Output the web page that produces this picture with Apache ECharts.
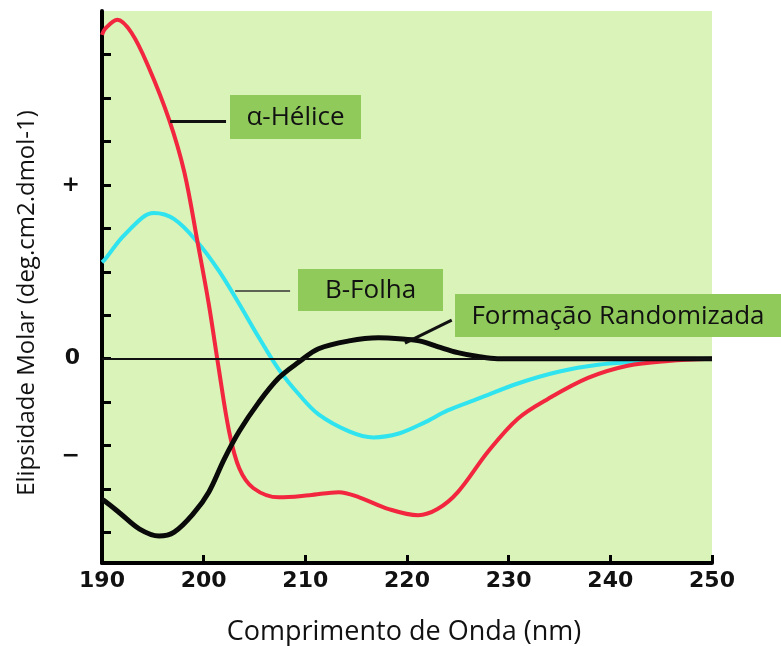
<!DOCTYPE html>
<html>
<head>
<meta charset="utf-8">
<title>Dicroísmo circular</title>
<script src="https://cdn.jsdelivr.net/npm/echarts/dist/echarts.min.js"></script>
<style>
  html, body { margin: 0; padding: 0; background: #ffffff; }
  #chart { width: 781px; height: 646px; }
</style>
</head>
<body>
<div id="chart"></div>
<script>
// Wavelength axis (nm)
const xTicks = [190, 200, 210, 220, 230, 240, 250];

// Molar ellipticity in tick units: [wavelength nm, value]
const helix = [
  [190.0, 7.45], [190.3, 7.59], [191.5, 7.80], [192.9, 7.50], [194.6, 6.70],
  [196.6, 5.50], [198.1, 4.29], [199.4, 2.68], [200.5, 1.26], [201.5, -0.25],
  [202.5, -1.67], [203.5, -2.52], [204.9, -2.98], [207.4, -3.19], [210.4, -3.14],
  [213.3, -3.07], [215.3, -3.19], [218.2, -3.46], [221.1, -3.60], [223.0, -3.46],
  [225.0, -3.07], [228.0, -2.13], [230.9, -1.38], [233.9, -0.92], [237.8, -0.44],
  [241.7, -0.16], [245.7, -0.05], [250.0, 0.00]
];

const sheet = [
  [190.0, 2.22], [190.3, 2.29], [192.3, 2.87], [195.1, 3.35], [197.1, 3.21],
  [199.4, 2.68], [201.5, 2.02], [203.5, 1.26], [205.4, 0.50], [207.4, -0.25],
  [209.4, -0.83], [211.3, -1.28], [214.3, -1.67], [216.7, -1.81], [219.2, -1.72],
  [221.7, -1.47], [224.0, -1.19], [227.0, -0.92], [230.9, -0.57], [234.9, -0.30],
  [238.8, -0.14], [242.7, -0.07], [245.7, -0.02], [250.0, 0.00]
];

const randomCoil = [
  [190.0, -3.24], [190.3, -3.28], [191.8, -3.56], [193.7, -3.92], [195.6, -4.08],
  [197.1, -3.99], [199.0, -3.56], [200.5, -3.07], [202.0, -2.32], [203.5, -1.67],
  [205.4, -1.01], [207.4, -0.44], [209.4, -0.07], [211.3, 0.23], [214.3, 0.41],
  [217.2, 0.48], [219.2, 0.46], [221.2, 0.41], [223.0, 0.28], [225.0, 0.14],
  [227.0, 0.05], [228.9, 0.00], [231.4, 0.00], [240.0, 0.00], [250.0, 0.00]
];

// Sign labels on the ellipticity axis
const yLabelValues = [4, 0, -2.25];
const yLabelText = { '4': '+', '0': '0', '-2.25': '\u2212' };
const yTickValues = [-4, -3, -2, -1, 0, 1, 2, 3, 4, 5, 6, 7];

// Callout texts and the points their leader lines start from / end at
const helixName = '\u03b1-H\u00e9lice';
const sheetName = 'B-Folha';
const coilName = 'Forma\u00e7\u00e3o Randomizada';
const helixLeader = [[196.7, 5.47], [202.2, 5.47]];
const sheetLeader = [[203.1, 1.56], [208.5, 1.56]];
const coilLeader = [[219.8, 0.36], [224.4, 0.89]];

const chart = echarts.init(document.getElementById('chart'), null, { renderer: 'canvas' });

const tickFont = {
  color: '#111',
  fontFamily: 'DejaVu Sans',
  fontWeight: 'bold',
  fontSize: 22
};

function leaderLine(points, width, color) {
  return [
    { coord: points[0], lineStyle: { width: width, color: color, type: 'solid' } },
    { coord: points[1] }
  ];
}

function markLines(lines) {
  return {
    silent: true,
    symbol: ['none', 'none'],
    label: { show: false },
    lineStyle: { type: 'solid' },
    emphasis: { disabled: true },
    data: lines
  };
}

function calloutBox(left, top, w, h, text) {
  return {
    type: 'group',
    left: left,
    top: top,
    children: [
      { type: 'rect', shape: { x: 0, y: 0, width: w, height: h }, style: { fill: '#8fca5b' } },
      {
        type: 'text',
        x: w / 2,
        y: h / 2 + 1,
        style: {
          text: text,
          fill: '#111',
          font: '26px "Open Sans"',
          textAlign: 'center',
          textVerticalAlign: 'middle'
        }
      }
    ]
  };
}

const lineBase = { type: 'line', smooth: 0.35, showSymbol: false };

chart.setOption({
  animation: false,
  backgroundColor: '#ffffff',
  grid: {
    left: 102,
    right: 69,
    top: 11,
    bottom: 83,
    show: true,
    backgroundColor: '#d9f3b8',
    borderWidth: 0
  },
  xAxis: {
    type: 'value',
    min: 190,
    max: 250,
    interval: 10,
    axisLine: { show: true, onZero: false, lineStyle: { color: '#000', width: 4 } },
    axisTick: { show: true, inside: true, length: 8, lineStyle: { color: '#000', width: 3 } },
    axisLabel: { ...tickFont, margin: 7, formatter: v => xTicks.includes(v) ? String(v) : '' },
    splitLine: { show: false }
  },
  yAxis: {
    type: 'value',
    min: -4.7,
    max: 8,
    axisLine: { show: true, onZero: false, lineStyle: { color: '#000', width: 4 } },
    axisTick: {
      show: true, inside: true, length: 9,
      customValues: yTickValues,
      lineStyle: { color: '#000', width: 3 }
    },
    axisLabel: {
      ...tickFont,
      margin: 22,
      customValues: yLabelValues,
      formatter: v => yLabelText[String(v)] || ''
    },
    splitLine: { show: false }
  },
  series: [
    {
      ...lineBase,
      name: helixName,
      data: helix,
      z: 3,
      lineStyle: { color: '#f2263f', width: 4 },
      markLine: markLines([leaderLine(helixLeader, 3, '#111')])
    },
    {
      ...lineBase,
      name: sheetName,
      data: sheet,
      z: 2,
      lineStyle: { color: '#2fe3ef', width: 4 },
      markLine: markLines([leaderLine(sheetLeader, 1.5, '#333')])
    },
    {
      ...lineBase,
      name: coilName,
      data: randomCoil,
      z: 4,
      lineStyle: { color: '#0a0a0a', width: 5 },
      markLine: markLines([
        leaderLine(coilLeader, 3, '#111'),
        leaderLine([[190, 0], [250, 0]], 2, '#111')
      ])
    }
  ],
  graphic: [
    calloutBox(230, 95, 131, 44, helixName),
    calloutBox(298, 269, 145, 42, sheetName),
    calloutBox(455, 294, 326, 43, coilName),
    {
      type: 'text',
      x: 404,
      y: 632,
      style: {
        text: 'Comprimento de Onda (nm)',
        fill: '#111',
        font: '27px "Open Sans"',
        textAlign: 'center',
        textVerticalAlign: 'middle'
      }
    },
    {
      type: 'text',
      x: 27,
      y: 303,
      rotation: Math.PI / 2,
      style: {
        text: 'Elipsidade Molar (deg.cm2.dmol-1)',
        fill: '#111',
        font: '24px "Open Sans"',
        textAlign: 'center',
        textVerticalAlign: 'middle'
      }
    }
  ]
});
</script>
</body>
</html>
